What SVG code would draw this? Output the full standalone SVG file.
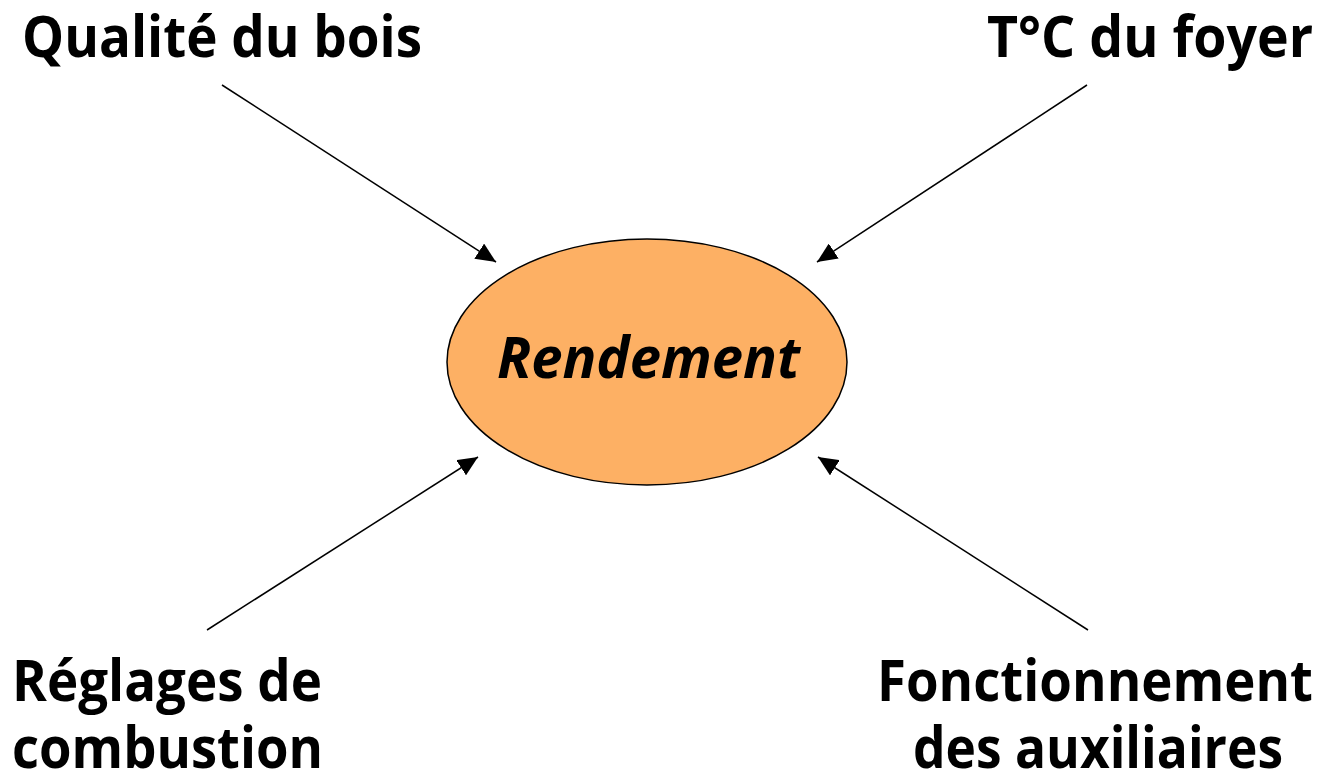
<svg xmlns="http://www.w3.org/2000/svg" width="1322" height="779" viewBox="0 0 1322 779">
<style>
.lbl{font-family:"Open Sans","Liberation Sans",sans-serif;font-weight:bold;font-size:57px;fill:#000}
.conn{stroke:#000;stroke-width:1.5;fill:none;marker-end:url(#ah)}
</style>
<defs>
<marker id="ah" viewBox="0 0 20 18" refX="20" refY="9" markerWidth="20" markerHeight="18" markerUnits="userSpaceOnUse" orient="auto">
<path d="M0,0 L20,9 L0,18 z" fill="#000"/>
</marker>
</defs>
<rect width="1322" height="779" fill="#fff"/>
<g id="connectors">
<line class="conn" x1="222" y1="85" x2="496" y2="262"/>
<line class="conn" x1="1087" y1="85" x2="817" y2="262"/>
<line class="conn" x1="207" y1="630" x2="478" y2="457"/>
<line class="conn" x1="1088" y1="630" x2="818" y2="457"/>
</g>
<g id="rendement">
<ellipse cx="647" cy="362" rx="200" ry="123" fill="#FDB064" stroke="#000" stroke-width="1.5"/>
<text class="lbl" x="497" y="378" font-style="italic" textLength="303" lengthAdjust="spacingAndGlyphs">Rendement</text>
</g>
<g id="qualite">
<text class="lbl" x="22" y="57" textLength="400" lengthAdjust="spacingAndGlyphs">Qualité du bois</text>
</g>
<g id="temperature">
<text class="lbl" x="987" y="57" textLength="326" lengthAdjust="spacingAndGlyphs">T°C du foyer</text>
</g>
<g id="reglages">
<text class="lbl" x="12" y="701" textLength="310" lengthAdjust="spacingAndGlyphs">Réglages de</text>
<text class="lbl" x="12" y="768" textLength="311" lengthAdjust="spacingAndGlyphs">combustion</text>
</g>
<g id="fonctionnement">
<text class="lbl" x="877" y="701" textLength="436" lengthAdjust="spacingAndGlyphs">Fonctionnement</text>
<text class="lbl" x="913" y="768" textLength="370" lengthAdjust="spacingAndGlyphs">des auxiliaires</text>
</g>
</svg>
